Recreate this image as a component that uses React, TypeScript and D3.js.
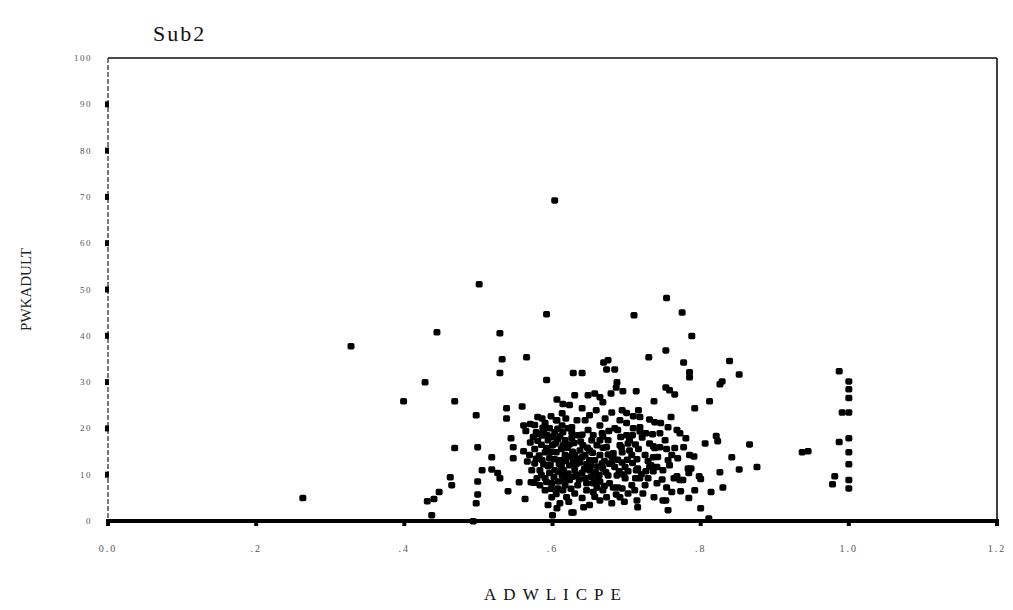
import React from "react";
import * as d3 from "d3";

const title = "Sub2";
const xTitle = "ADWLICPE";
const yTitle = "PWKADULT";
const xTicks = [0, 0.2, 0.4, 0.6, 0.8, 1.0, 1.2];
const xTickLabels = ["0.0", ".2", ".4", ".6", ".8", "1.0", "1.2"];
const yTicks = [0, 10, 20, 30, 40, 50, 60, 70, 80, 90, 100];

// [ADWLICPE, PWKADULT]
const outerPoints: [number, number][] = [
  [0.263, 5.0], [0.328, 37.8], [0.399, 25.9], [0.428, 30.0], [0.444, 40.8],
  [0.501, 51.2], [0.603, 69.3], [0.592, 44.7], [0.710, 44.5], [0.754, 48.2],
  [0.775, 45.1], [0.788, 40.0], [0.529, 40.6], [0.532, 35.0], [0.565, 35.4],
  [0.529, 32.0], [0.592, 30.5], [0.468, 25.9], [0.497, 22.9], [0.538, 24.4],
  [0.559, 24.8], [0.538, 22.2], [0.468, 15.8], [0.499, 16.0], [0.518, 13.8],
  [0.505, 11.0], [0.518, 11.2], [0.526, 10.4], [0.529, 9.3], [0.462, 9.5],
  [0.464, 7.8], [0.499, 8.6], [0.447, 6.3], [0.440, 4.8], [0.431, 4.3],
  [0.437, 1.3], [0.499, 5.8], [0.497, 3.9], [0.493, 0.0], [0.544, 17.9],
  [0.547, 16.0], [0.561, 15.1], [0.547, 13.6], [0.555, 8.4], [0.571, 8.4],
  [0.540, 6.5], [0.563, 4.8], [0.600, 1.3], [0.626, 1.9], [0.561, 20.7],
  [0.578, 19.2], [0.581, 18.9], [0.586, 22.2], [0.606, 21.8], [0.606, 26.3],
  [0.614, 25.3], [0.628, 32.0], [0.640, 32.0], [0.669, 34.3], [0.675, 34.8],
  [0.673, 32.8], [0.684, 32.8], [0.730, 35.4], [0.753, 36.9], [0.777, 34.3],
  [0.785, 32.2], [0.785, 31.1], [0.839, 34.6], [0.852, 31.7], [0.829, 30.2],
  [0.826, 29.6], [0.687, 30.0], [0.686, 28.9], [0.695, 28.1], [0.713, 28.1],
  [0.753, 28.9], [0.758, 28.3], [0.765, 27.4], [0.737, 25.9], [0.812, 25.9],
  [0.792, 24.4], [0.630, 27.2], [0.657, 27.6], [0.664, 26.8], [0.668, 25.7],
  [0.640, 24.4], [0.623, 25.1], [0.680, 23.5], [0.694, 24.0], [0.709, 22.7],
  [0.718, 22.5], [0.731, 22.0], [0.738, 21.4], [0.746, 21.2], [0.756, 20.3],
  [0.768, 19.7], [0.772, 19.0], [0.780, 17.9], [0.806, 16.8], [0.821, 18.4],
  [0.823, 17.3], [0.866, 16.6], [0.842, 13.8], [0.852, 11.2], [0.876, 11.7],
  [0.826, 10.6], [0.791, 14.0], [0.787, 11.4], [0.784, 10.4], [0.798, 9.7],
  [0.800, 9.1], [0.776, 8.9], [0.764, 9.3], [0.772, 8.9], [0.814, 6.3],
  [0.830, 7.3], [0.800, 2.8], [0.811, 0.6], [0.754, 15.6], [0.756, 13.2],
  [0.736, 16.2], [0.736, 13.8], [0.733, 12.1], [0.736, 10.8], [0.741, 8.2],
  [0.754, 7.3], [0.761, 6.3], [0.737, 5.2], [0.753, 4.5], [0.756, 2.4],
  [0.714, 4.5], [0.715, 3.0], [0.937, 14.9], [0.945, 15.1],
];

const columnPoints: [number, number][] = [
  [0.987, 32.4], [1.0, 30.2], [1.0, 28.5], [1.0, 26.6], [0.991, 23.5],
  [1.0, 23.5], [0.987, 17.1], [1.0, 17.9], [1.0, 14.9], [1.0, 12.3],
  [0.981, 9.7], [0.978, 8.0], [1.0, 8.9], [1.0, 7.1],
];

const clusterPoints: [number, number][] = [
  [0.650, 22.9], [0.633, 21.8], [0.626, 20.3], [0.664, 20.7], [0.667, 19.0],
  [0.664, 17.5], [0.684, 20.1], [0.688, 19.7], [0.700, 18.6], [0.704, 17.5],
  [0.702, 16.8], [0.718, 20.3], [0.718, 19.4], [0.721, 18.1], [0.731, 16.8],
  [0.738, 15.8], [0.745, 16.0], [0.765, 15.8], [0.725, 14.3], [0.729, 13.0],
  [0.731, 11.7], [0.741, 11.7], [0.704, 15.3], [0.707, 14.3], [0.714, 13.4],
  [0.682, 14.7], [0.682, 13.6], [0.684, 11.7], [0.664, 14.3], [0.667, 12.5],
  [0.668, 11.4], [0.694, 12.7], [0.698, 11.7], [0.702, 10.8], [0.715, 11.4],
  [0.718, 9.3], [0.729, 9.3], [0.768, 9.7], [0.783, 11.4], [0.749, 4.5],
  [0.677, 8.2], [0.682, 7.3], [0.688, 7.3], [0.694, 7.1], [0.655, 8.2],
  [0.660, 7.3], [0.673, 5.2], [0.680, 3.9], [0.655, 6.3], [0.628, 1.9],
  [0.614, 6.7], [0.619, 5.2], [0.599, 5.2], [0.610, 3.9], [0.590, 21.2],
  [0.596, 20.1], [0.603, 19.2], [0.610, 18.4], [0.617, 17.5], [0.623, 16.6],
  [0.594, 17.5], [0.600, 16.4], [0.590, 14.9], [0.596, 13.6], [0.605, 14.9],
  [0.610, 13.2], [0.617, 14.3], [0.623, 12.1], [0.630, 11.0], [0.637, 12.7],
  [0.644, 14.3], [0.641, 16.4], [0.634, 18.6], [0.648, 19.7], [0.653, 17.5],
  [0.650, 15.3], [0.657, 13.2], [0.650, 11.0], [0.644, 9.3], [0.634, 7.8],
  [0.623, 8.9], [0.613, 9.9], [0.603, 11.0], [0.594, 11.9], [0.586, 13.2],
  [0.583, 11.0], [0.590, 9.3], [0.599, 8.2], [0.607, 7.1], [0.617, 7.8],
  [0.630, 6.0], [0.640, 5.0], [0.646, 6.7], [0.590, 6.7], [0.583, 7.8],
  [0.576, 12.5], [0.572, 11.0], [0.579, 9.3], [0.569, 14.3], [0.605, 21.8],
  [0.613, 20.7], [0.621, 20.1], [0.618, 22.2], [0.644, 21.8], [0.659, 24.0],
  [0.671, 22.2], [0.675, 17.5], [0.691, 16.4], [0.694, 14.9], [0.673, 16.0],
  [0.687, 9.9], [0.675, 9.9], [0.698, 9.3], [0.707, 7.8], [0.702, 6.0],
  [0.691, 5.2], [0.664, 4.5], [0.650, 3.5], [0.606, 2.8], [0.594, 3.5],
  [0.711, 6.7], [0.725, 7.8], [0.722, 6.0], [0.700, 21.2], [0.709, 20.1],
  [0.691, 21.8], [0.726, 19.0], [0.745, 19.0], [0.752, 17.5], [0.758, 12.1],
  [0.749, 11.0], [0.769, 13.6], [0.761, 14.3], [0.777, 16.0], [0.785, 14.3],
  [0.773, 6.5], [0.784, 5.0], [0.792, 6.7], [0.679, 27.6], [0.648, 27.2],
  [0.613, 23.3], [0.661, 9.3], [0.668, 6.7], [0.637, 15.3], [0.630, 14.3],
  [0.660, 16.4], [0.680, 12.7], [0.713, 11.0],
];

const densePoints: [number, number][] = [
  [0.585, 16.5], [0.592, 15.8], [0.598, 15.0], [0.604, 16.8], [0.612, 15.6],
  [0.620, 15.9], [0.627, 15.0], [0.633, 13.5], [0.640, 13.8], [0.646, 12.3],
  [0.652, 12.0], [0.658, 10.6], [0.663, 10.0], [0.670, 13.0], [0.675, 14.4],
  [0.677, 12.4], [0.688, 13.3], [0.690, 10.8], [0.696, 10.1], [0.701, 13.3],
  [0.708, 12.6], [0.712, 9.3], [0.720, 10.2], [0.726, 10.8], [0.588, 12.3],
  [0.596, 10.4], [0.602, 9.5], [0.608, 10.7], [0.615, 11.0], [0.621, 10.3],
  [0.627, 9.6], [0.633, 10.0], [0.640, 10.5], [0.646, 8.2], [0.652, 9.6],
  [0.658, 8.4], [0.664, 8.6], [0.670, 7.6], [0.576, 15.6], [0.580, 17.4],
  [0.586, 18.5], [0.600, 18.2], [0.607, 20.0], [0.614, 19.2], [0.626, 18.0],
  [0.640, 18.7], [0.655, 18.6], [0.668, 18.3], [0.676, 19.5], [0.692, 18.2],
  [0.708, 18.6], [0.598, 22.7], [0.576, 20.8], [0.570, 17.0], [0.566, 12.9],
  [0.575, 8.3], [0.605, 5.9], [0.622, 4.2], [0.642, 3.0], [0.657, 5.3],
  [0.686, 5.8], [0.697, 4.2], [0.612, 12.0], [0.628, 12.9], [0.654, 14.8],
  [0.668, 15.9], [0.693, 16.0], [0.716, 15.6], [0.742, 13.9], [0.748, 9.0],
  [0.712, 16.6], [0.735, 18.8], [0.716, 24.0], [0.700, 23.4], [0.760, 22.5],
];

const corePoints: [number, number][] = [
  [0.582, 14.2], [0.588, 19.6], [0.593, 18.6], [0.597, 12.2], [0.603, 13.4],
  [0.607, 17.7], [0.609, 12.4], [0.614, 16.4], [0.618, 13.0], [0.620, 9.2],
  [0.624, 14.0], [0.626, 19.2], [0.629, 16.9], [0.632, 12.3], [0.636, 9.0],
  [0.638, 17.2], [0.643, 11.3], [0.647, 15.9], [0.650, 13.2], [0.655, 10.2],
  [0.585, 10.0], [0.592, 8.5], [0.598, 7.0], [0.578, 13.5], [0.574, 18.2],
  [0.564, 19.5], [0.570, 21.0], [0.580, 22.5], [0.587, 20.2], [0.608, 8.6],
  [0.616, 9.0], [0.625, 7.0], [0.661, 11.8], [0.672, 10.6], [0.680, 14.0],
];

const allPoints = [
  ...outerPoints,
  ...columnPoints,
  ...clusterPoints,
  ...densePoints,
  ...corePoints,
];

export default function App() {
  const W = 1013;
  const H = 610;
  const left = 108, right = 997, top = 58, bottom = 521;
  const x = d3.scaleLinear().domain([0, 1.2]).range([left, right]);
  const y = d3.scaleLinear().domain([0, 100]).range([bottom, top]);
  const serif = "'Liberation Serif', 'DejaVu Serif', serif";

  return (
    <svg
      width={W}
      height={H}
      viewBox={`0 0 ${W} ${H}`}
      style={{ position: "absolute", left: 0, top: 0, background: "#fff" }}
    >
      <rect x={0} y={0} width={W} height={H} fill="#fff" />
      <text x={153} y={41} fontFamily={serif} fontSize={22} letterSpacing={2} fill="#111">
        {title}
      </text>

      {/* frame */}
      <line x1={left} x2={right} y1={top} y2={top} stroke="#111" strokeWidth={1.6} />
      <line x1={right} x2={right} y1={top} y2={bottom} stroke="#111" strokeWidth={1.6} />
      <line x1={left} x2={left} y1={top} y2={bottom} stroke="#222" strokeWidth={1.2} strokeDasharray="5 2" />
      <line x1={left - 2} x2={right + 2} y1={bottom} y2={bottom} stroke="#000" strokeWidth={4} />

      {/* y ticks */}
      {yTicks.map((t) => (
        <g key={"y" + t}>
          {t > 0 && t < 100 && (
            <rect x={left - 3} y={y(t) - 3} width={4} height={6} fill="#000" />
          )}
          <text
            x={left - 16}
            y={y(t) + 3}
            textAnchor="end"
            fontFamily={serif}
            fontSize={9}
            letterSpacing={1.5}
            fill="#555"
          >
            {t}
          </text>
        </g>
      ))}

      {/* x ticks */}
      {xTicks.map((t, i) => (
        <g key={"x" + t}>
          <rect x={x(t) - 2} y={bottom + 1} width={4} height={4} fill="#000" />
          <text
            x={x(t)}
            y={bottom + 31}
            textAnchor="middle"
            fontFamily={serif}
            fontSize={10}
            letterSpacing={2}
            fill="#555"
          >
            {xTickLabels[i]}
          </text>
        </g>
      ))}

      {/* points */}
      {allPoints.map(([a, b], i) => (
        <rect
          key={i}
          x={x(a) - 3.5}
          y={y(b) - 3}
          width={7}
          height={6.5}
          rx={1.8}
          fill="#000"
        />
      ))}

      <text
        x={556}
        y={600}
        textAnchor="middle"
        fontFamily={serif}
        fontSize={17}
        letterSpacing={7}
        fill="#111"
      >
        {xTitle}
      </text>
      <text
        transform={`translate(31, ${(top + bottom) / 2}) rotate(-90)`}
        textAnchor="middle"
        fontFamily={serif}
        fontSize={15}
        fill="#222"
      >
        {yTitle}
      </text>
    </svg>
  );
}
